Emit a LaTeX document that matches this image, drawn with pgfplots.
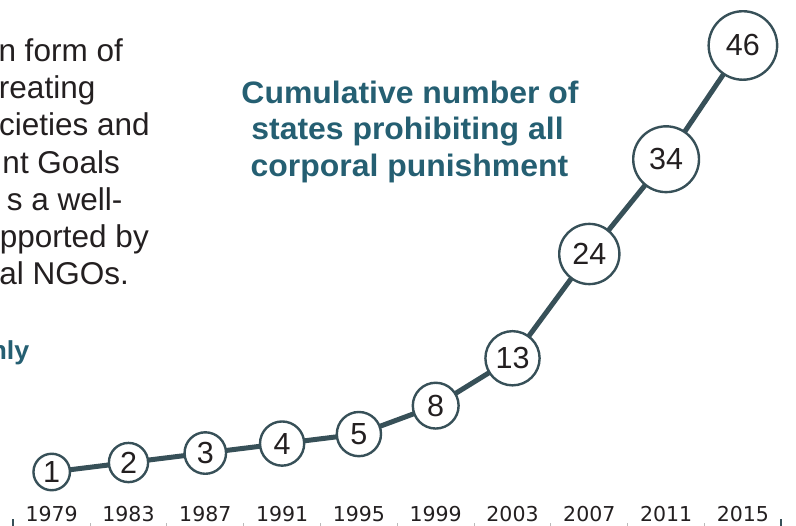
\documentclass[border=0pt]{standalone}
\usepackage{pgfplots}
\pgfplotsset{compat=1.18}
\usepackage{pgfplotstable}
\usepackage{fontspec}
\setmainfont{Liberation Sans}
\newfontfamily\dejavu{DejaVu Sans}
\newfontfamily\titlefont{Liberation Sans}[FakeStretch=1.03]
\definecolor{linec}{RGB}{55,80,88}
\definecolor{titlec}{RGB}{37,95,114}
\definecolor{txt}{RGB}{35,31,32}

\pgfplotstableread{
year val d
1979 1  36.5
1983 2  39.2
1987 3  41.5
1991 4  44.2
1995 5  44.2
1999 8  45.8
2003 13 54.2
2007 24 60.2
2011 34 65.8
2015 46 68.5
}\datatable

\begin{document}
\begin{tikzpicture}[x=1bp,y=1bp]
\useasboundingbox (0,0) rectangle (796,526);
\clip (0,0) rectangle (796,526);
\begin{axis}[
  at={(0,0)}, anchor=south west,
  scale only axis, width=796bp, height=526bp,
  xmin=1976.307, xmax=2017.766, ymin=-4.697, ymax=50.80,
  clip=false,
  axis line style={draw=none},
  ytick=\empty,
  xtick={1979,1983,1987,1991,1995,1999,2003,2007,2011,2015},
  xticklabels={1979,1983,1987,1991,1995,1999,2003,2007,2011,2015},
  xtick pos=bottom,
  tick align=inside,
  major tick length=0pt,
  minor xtick={1981,1985,1989,1993,1997,2001,2005,2009,2013},
  minor tick length=3bp,
  minor tick style={draw=gray!55, line width=1bp},
  extra x ticks={1977,2017},
  extra x tick labels={},
  extra x tick style={major tick length=7bp, tick style={draw=linec, line width=2bp}},
  xticklabel style={font=\dejavu\fontsize{20.5bp}{24bp}\selectfont, text=txt, anchor=base, yshift=4.3bp, inner sep=0pt},
]
\addplot[linec, line width=5bp, mark=none,
  visualization depends on={\thisrow{d}\as\diam},
  point meta=explicit symbolic,
  nodes near coords,
  every node near coord/.append style={circle, draw=linec, line width=2.4bp, fill=white,
     minimum size=\diam bp, inner sep=0pt, anchor=center,
     font=\fontsize{30.5bp}{30.5bp}\selectfont, text=txt},
] table[x=year,y=val,meta=val]{\datatable};
\end{axis}

\begin{scope}[every node/.style={inner sep=0pt, anchor=base east, text=txt, font=\fontsize{31.5bp}{37bp}\selectfont}]
\node at (123,526-61.5) {n form of};
\node at (95.5,526-98.7) {reating};
\node at (150,526-135.9) {cieties and};
\node at (120,526-173.1) {nt Goals};
\node at (122.7,526-210.3) {s a well-};
\node at (149,526-247.5) {pported by};
\node at (129,526-284.7) {al NGOs.};
\node[text=titlec, font=\titlefont\bfseries\fontsize{26bp}{30bp}\selectfont] at (29.5,526-359.5) {nly};
\end{scope}

\begin{scope}[every node/.style={inner sep=0pt, anchor=base, text=titlec, font=\titlefont\bfseries\fontsize{31bp}{37bp}\selectfont}]
\node at (410,526-103.3) {Cumulative number of};
\node at (407.5,526-140) {states prohibiting all};
\node at (409.5,526-176.7) {corporal punishment};
\end{scope}
\end{tikzpicture}
\end{document}
